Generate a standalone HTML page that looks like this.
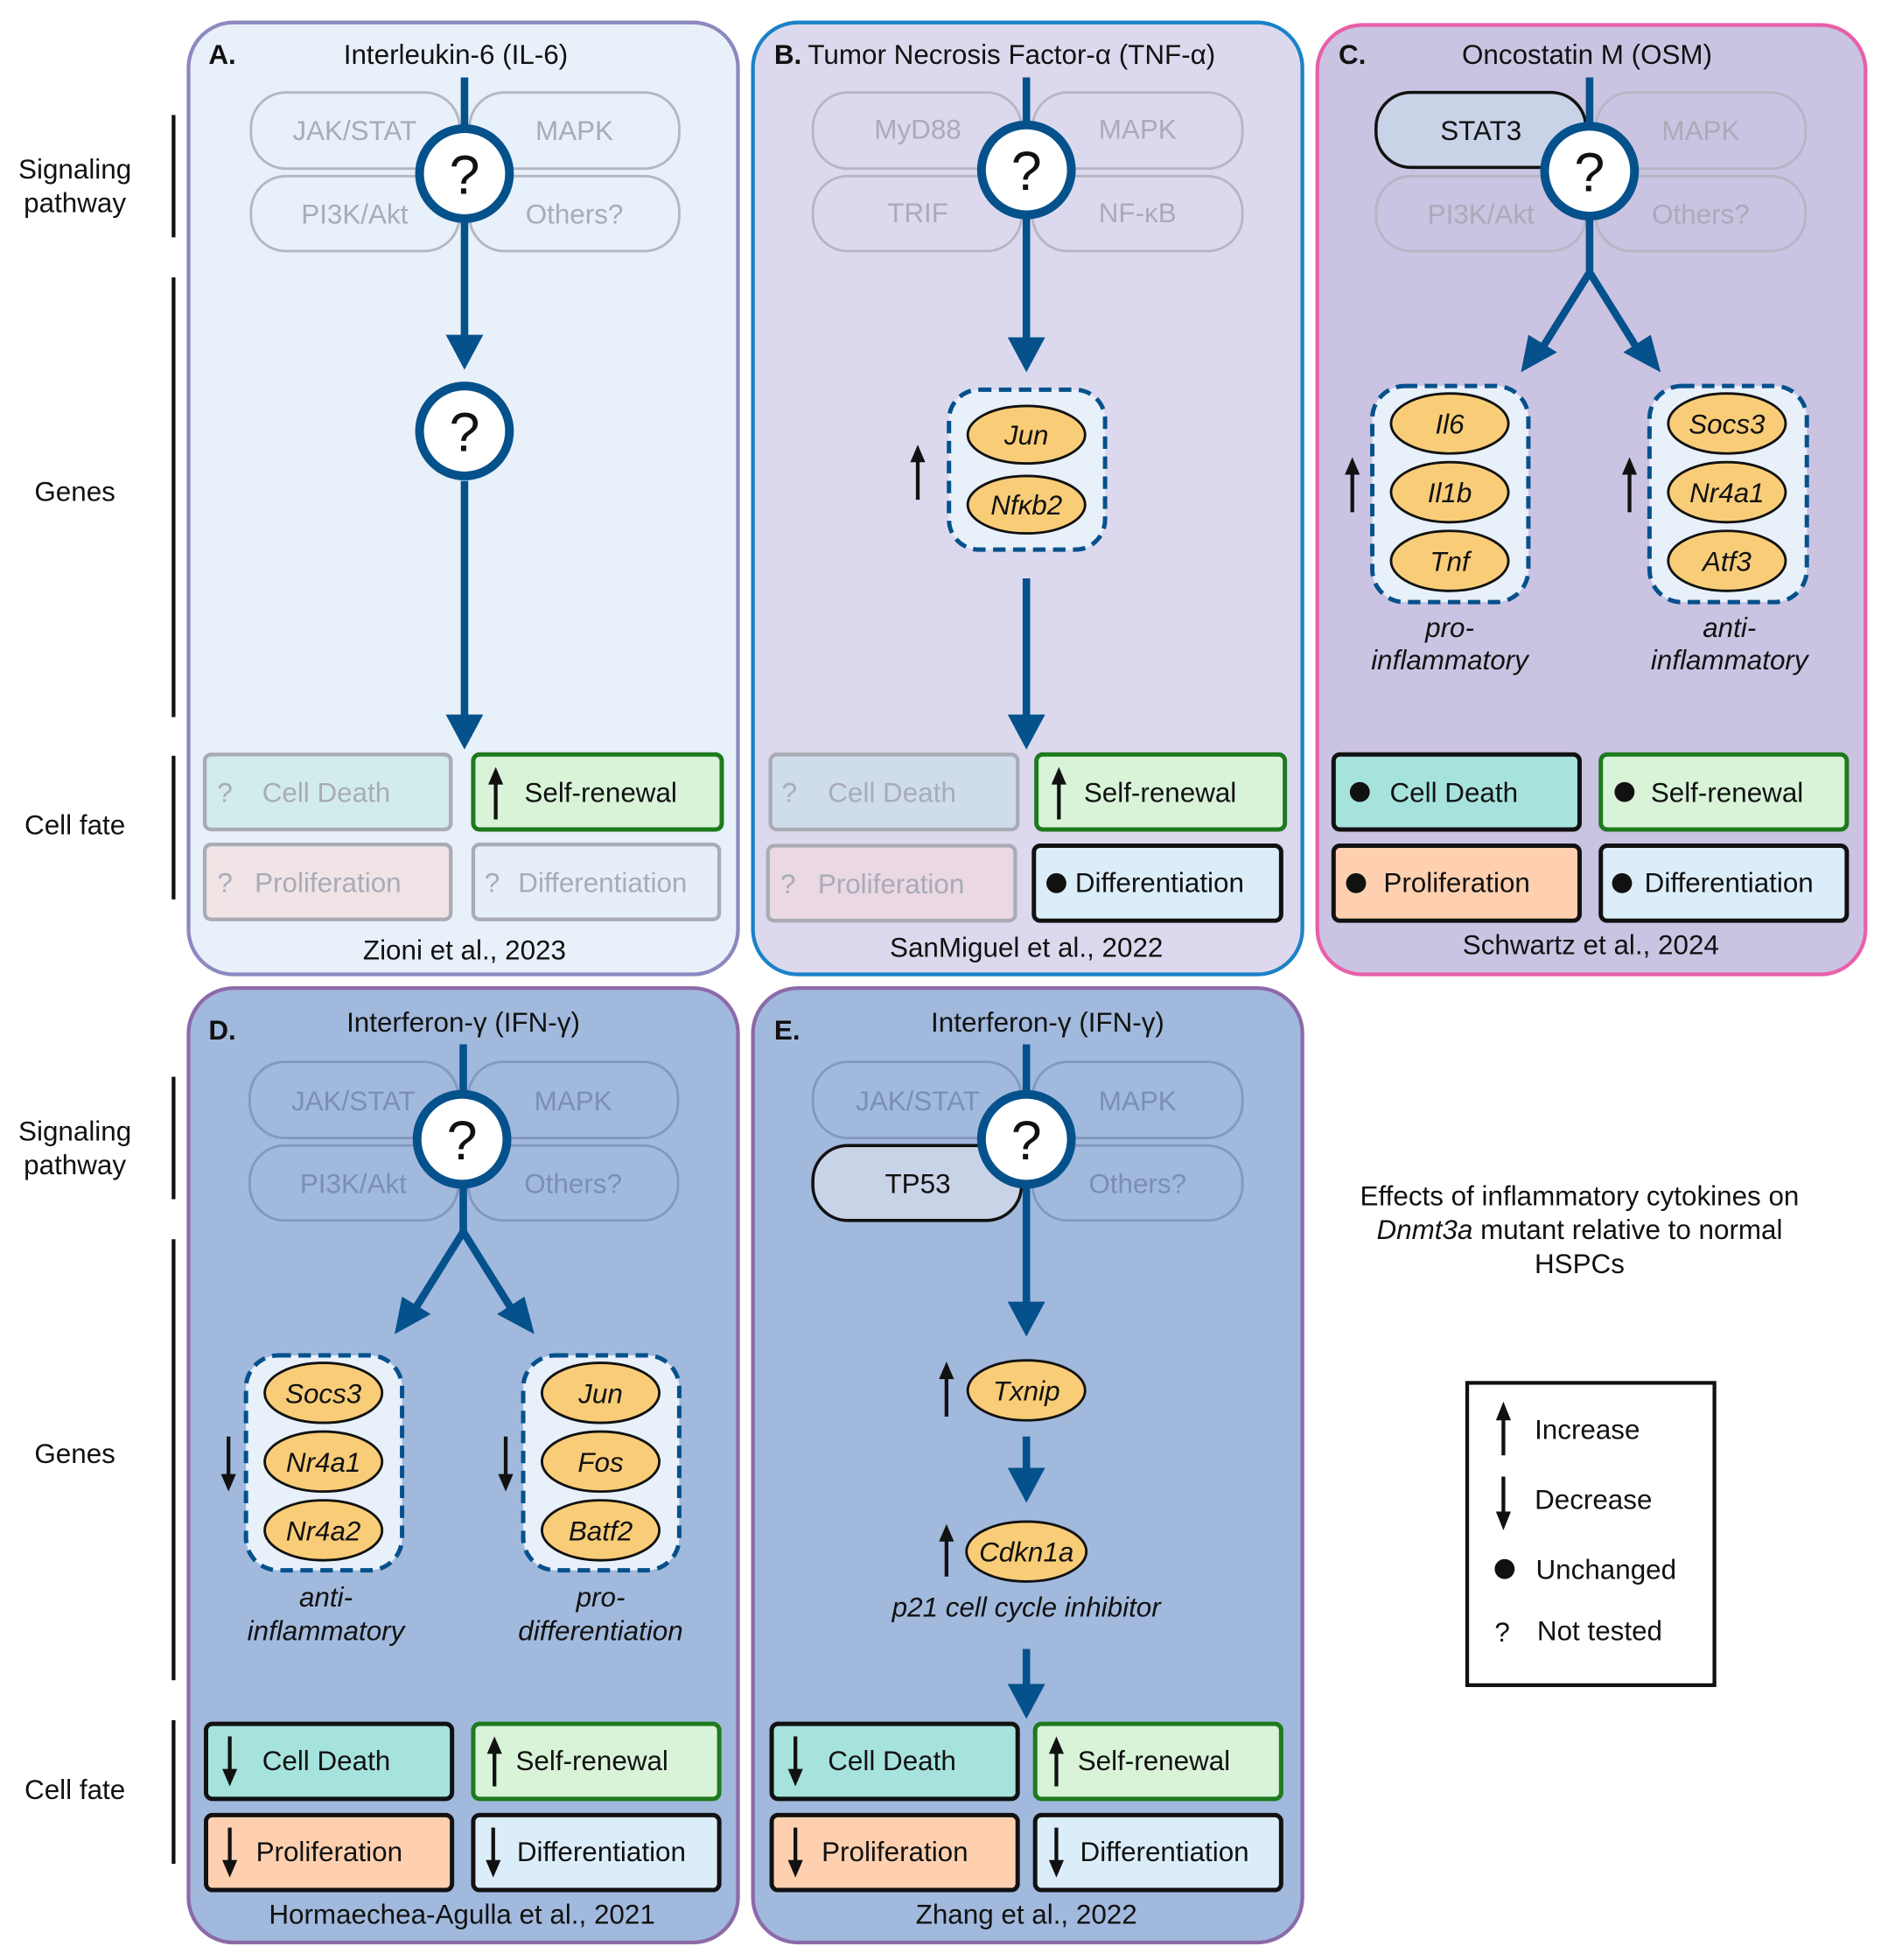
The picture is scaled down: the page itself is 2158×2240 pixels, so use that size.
<!DOCTYPE html>
<html><head><meta charset="utf-8"><style>
html,body{margin:0;padding:0;background:#fff}
svg{display:block}
text{font-family:"Liberation Sans",sans-serif;font-size:22px;fill:#111}
.pb{fill:none;stroke:#b4b6c4;stroke-width:2}
.pt{fill:#a9abb8;text-anchor:middle}
.pb2{fill:none;stroke:#8298bd;stroke-width:2}
.pt2{fill:#7a8fb5;text-anchor:middle}
.c{text-anchor:middle}
.bl{stroke:#05518c;stroke-width:6;fill:none}
.bh{fill:#05518c}
.q{fill:#fff;stroke:#05518c;stroke-width:7}
.qt{font-size:44px;text-anchor:middle;fill:#111}
.ell{fill:#f9cd78;stroke:#111;stroke-width:2}
.it{font-style:italic;text-anchor:middle}
.dash{fill:#e8f0fa;stroke:#05518c;stroke-width:3.5;stroke-dasharray:10 6}
.ka{stroke:#111;stroke-width:3}
.cd{fill:#a6e3dd;stroke:#111;stroke-width:3.5}
.sr{fill:#d8f3d8;stroke:#1e7a1e;stroke-width:3.5}
.pr{fill:#ffd0b0;stroke:#111;stroke-width:3.5}
.df{fill:#dcedfa;stroke:#111;stroke-width:3.5}
.fcd{fill:#d2ecec;stroke:#a9abb5;stroke-width:3}
.fpr{fill:#f0e4e6;stroke:#a9abb5;stroke-width:3}
.fdf{fill:#e6eef8;stroke:#a9abb5;stroke-width:3}
.fpr2{fill:#ead8e2;stroke:#a9abb5;stroke-width:3}
.fcd2{fill:#cfdcea;stroke:#a9abb5;stroke-width:3}
.ft{fill:#a9abb8}
.br{stroke:#111;stroke-width:3}
</style></head><body>
<svg width="2158" height="2240" viewBox="0 0 1512 1569" preserveAspectRatio="none" xmlns="http://www.w3.org/2000/svg">
<!-- left labels -->
<text class="c" x="60" y="143">Signaling</text><text class="c" x="60" y="170">pathway</text>
<line class="br" x1="139" y1="92" x2="139" y2="190"/>
<text class="c" x="60" y="401">Genes</text>
<line class="br" x1="139" y1="222" x2="139" y2="574"/>
<text class="c" x="60" y="668">Cell fate</text>
<line class="br" x1="139" y1="605" x2="139" y2="720"/>
<text class="c" x="60" y="913">Signaling</text><text class="c" x="60" y="940">pathway</text>
<line class="br" x1="139" y1="862" x2="139" y2="960"/>
<text class="c" x="60" y="1171">Genes</text>
<line class="br" x1="139" y1="992" x2="139" y2="1345"/>
<text class="c" x="60" y="1440">Cell fate</text>
<line class="br" x1="139" y1="1377" x2="139" y2="1492"/>

<!-- Panel frames -->
<rect x="151" y="18" width="440" height="762" rx="36" fill="#e8f0fa" stroke="#8c88c0" stroke-width="3"/>
<rect x="603" y="18" width="440" height="762" rx="36" fill="#dcd9ee" stroke="#1a82c8" stroke-width="3"/>
<rect x="1055" y="20" width="439" height="760" rx="36" fill="#cbc3e2" stroke="#e860a8" stroke-width="3"/>
<rect x="151" y="791" width="440" height="764" rx="36" fill="#a1b9dd" stroke="#8c6aa8" stroke-width="3"/>
<rect x="603" y="791" width="440" height="764" rx="36" fill="#a1b9dd" stroke="#8c6aa8" stroke-width="3"/>

<!-- ===== Panel A ===== -->
<text x="167" y="51" style="font-weight:bold">A.</text>
<text class="c" x="365" y="51">Interleukin-6 (IL-6)</text>
<rect class="pb" x="201" y="74" width="167" height="61" rx="28"/><rect class="pb" x="376" y="74" width="168" height="61" rx="28"/>
<rect class="pb" x="201" y="141" width="167" height="60" rx="28"/><rect class="pb" x="376" y="141" width="168" height="60" rx="28"/>
<text class="pt" x="284" y="112">JAK/STAT</text><text class="pt" x="460" y="112">MAPK</text>
<text class="pt" x="284" y="179">PI3K/Akt</text><text class="pt" x="460" y="179">Others?</text>
<line class="bl" x1="372" y1="62" x2="372" y2="272"/>
<polygon class="bh" points="357,268 387,268 372,296"/>
<circle class="q" cx="372" cy="139" r="36"/><text class="qt" x="372" y="155">?</text>
<circle class="q" cx="372" cy="345" r="36"/><text class="qt" x="372" y="361">?</text>
<line class="bl" x1="372" y1="385" x2="372" y2="575"/>
<polygon class="bh" points="357,572 387,572 372,600"/>
<rect class="fcd" x="164" y="604" width="197" height="60" rx="5"/>
<text class="ft" x="174" y="642">?</text><text class="ft" x="210" y="642">Cell Death</text>
<rect class="sr" x="379" y="604" width="199" height="60" rx="5"/>
<line class="ka" x1="397" y1="656" x2="397" y2="626"/><polygon points="391,628 403,628 397,614" fill="#111"/>
<text x="420" y="642">Self-renewal</text>
<rect class="fpr" x="164" y="676" width="197" height="60" rx="5"/>
<text class="ft" x="174" y="714">?</text><text class="ft" x="204" y="714">Proliferation</text>
<rect class="fdf" x="379" y="676" width="197" height="60" rx="5"/>
<text class="ft" x="388" y="714">?</text><text class="ft" x="415" y="714">Differentiation</text>
<text class="c" x="372" y="768">Zioni et al., 2023</text>

<!-- ===== Panel B ===== -->
<text x="620" y="51" style="font-weight:bold">B.</text>
<text x="647" y="51">Tumor Necrosis Factor-α (TNF-α)</text>
<rect class="pb" x="651" y="74" width="167" height="61" rx="28"/><rect class="pb" x="827" y="74" width="168" height="61" rx="28"/>
<rect class="pb" x="651" y="141" width="167" height="60" rx="28"/><rect class="pb" x="827" y="141" width="168" height="60" rx="28"/>
<text class="pt" x="735" y="111">MyD88</text><text class="pt" x="911" y="111">MAPK</text>
<text class="pt" x="735" y="178">TRIF</text><text class="pt" x="911" y="178">NF-κB</text>
<line class="bl" x1="822" y1="62" x2="822" y2="274"/>
<polygon class="bh" points="807,270 837,270 822,298"/>
<circle class="q" cx="822" cy="136" r="36"/><text class="qt" x="822" y="152">?</text>
<rect class="dash" x="760" y="312" width="125" height="128" rx="24"/>
<ellipse class="ell" cx="822" cy="348" rx="47" ry="23"/><text class="it" x="822" y="356">Jun</text>
<ellipse class="ell" cx="822" cy="404" rx="47" ry="23"/><text class="it" x="822" y="412">Nfκb2</text>
<line class="ka" x1="735" y1="400" x2="735" y2="368"/><polygon points="729,370 741,370 735,356" fill="#111"/>
<line class="bl" x1="822" y1="463" x2="822" y2="576"/>
<polygon class="bh" points="807,572 837,572 822,600"/>
<rect class="fcd2" x="617" y="604" width="198" height="60" rx="5"/>
<text class="ft" x="626" y="642">?</text><text class="ft" x="663" y="642">Cell Death</text>
<rect class="sr" x="830" y="604" width="199" height="60" rx="5"/>
<line class="ka" x1="848" y1="656" x2="848" y2="626"/><polygon points="842,628 854,628 848,614" fill="#111"/>
<text x="868" y="642">Self-renewal</text>
<rect class="fpr2" x="615" y="677" width="198" height="60" rx="5"/>
<text class="ft" x="625" y="715">?</text><text class="ft" x="655" y="715">Proliferation</text>
<rect class="df" x="828" y="677" width="198" height="60" rx="5"/>
<circle cx="846" cy="707" r="8" fill="#111"/><text x="861" y="714">Differentiation</text>
<text class="c" x="822" y="766">SanMiguel et al., 2022</text>

<!-- ===== Panel C ===== -->
<text x="1072" y="51" style="font-weight:bold">C.</text>
<text class="c" x="1271" y="51">Oncostatin M (OSM)</text>
<rect x="1102" y="74" width="168" height="60" rx="28" fill="#c9d3e8" stroke="#111" stroke-width="2.5"/>
<rect class="pb" x="1278" y="74" width="168" height="61" rx="28"/>
<rect class="pb" x="1102" y="141" width="168" height="60" rx="28"/><rect class="pb" x="1278" y="141" width="168" height="60" rx="28"/>
<text class="c" x="1186" y="112">STAT3</text><text class="pt" x="1362" y="112">MAPK</text>
<text class="pt" x="1186" y="179">PI3K/Akt</text><text class="pt" x="1362" y="179">Others?</text>
<line class="bl" x1="1273" y1="62" x2="1273" y2="218"/>
<polyline class="bl" points="1233,282 1273,218 1313,282"/>
<polygon class="bh" points="1218,298 1224,268 1247,282"/>
<polygon class="bh" points="1330,298 1300,282 1322,268"/>
<circle class="q" cx="1273" cy="137" r="36"/><text class="qt" x="1273" y="153">?</text>
<rect class="dash" x="1099" y="309" width="125" height="173" rx="26"/>
<ellipse class="ell" cx="1161" cy="339" rx="47" ry="24"/><text class="it" x="1161" y="347">Il6</text>
<ellipse class="ell" cx="1161" cy="394" rx="47" ry="24"/><text class="it" x="1161" y="402">Il1b</text>
<ellipse class="ell" cx="1161" cy="449" rx="47" ry="24"/><text class="it" x="1161" y="457">Tnf</text>
<line class="ka" x1="1083" y1="410" x2="1083" y2="378"/><polygon points="1077,380 1089,380 1083,366" fill="#111"/>
<rect class="dash" x="1321" y="309" width="126" height="173" rx="26"/>
<ellipse class="ell" cx="1383" cy="339" rx="47" ry="24"/><text class="it" x="1383" y="347">Socs3</text>
<ellipse class="ell" cx="1383" cy="394" rx="47" ry="24"/><text class="it" x="1383" y="402">Nr4a1</text>
<ellipse class="ell" cx="1383" cy="449" rx="47" ry="24"/><text class="it" x="1383" y="457">Atf3</text>
<line class="ka" x1="1305" y1="410" x2="1305" y2="378"/><polygon points="1299,380 1311,380 1305,366" fill="#111"/>
<text class="it" x="1161" y="510">pro-</text><text class="it" x="1161" y="536">inflammatory</text>
<text class="it" x="1385" y="510">anti-</text><text class="it" x="1385" y="536">inflammatory</text>
<rect class="cd" x="1068" y="604" width="197" height="60" rx="5"/>
<circle cx="1089" cy="634" r="8" fill="#111"/><text x="1113" y="642">Cell Death</text>
<rect class="sr" x="1282" y="604" width="197" height="60" rx="5"/>
<circle cx="1301" cy="634" r="8" fill="#111"/><text x="1322" y="642">Self-renewal</text>
<rect class="pr" x="1068" y="677" width="197" height="60" rx="5"/>
<circle cx="1086" cy="707" r="8" fill="#111"/><text x="1108" y="714">Proliferation</text>
<rect class="df" x="1282" y="677" width="197" height="60" rx="5"/>
<circle cx="1299" cy="707" r="8" fill="#111"/><text x="1317" y="714">Differentiation</text>
<text class="c" x="1274" y="764">Schwartz et al., 2024</text>

<!-- ===== Panel D ===== -->
<text x="167" y="832" style="font-weight:bold">D.</text>
<text class="c" x="371" y="826">Interferon-γ (IFN-γ)</text>
<rect class="pb2" x="200" y="850" width="167" height="61" rx="28"/><rect class="pb2" x="375" y="850" width="168" height="61" rx="28"/>
<rect class="pb2" x="200" y="917" width="167" height="60" rx="28"/><rect class="pb2" x="375" y="917" width="168" height="60" rx="28"/>
<text class="pt2" x="283" y="889">JAK/STAT</text><text class="pt2" x="459" y="889">MAPK</text>
<text class="pt2" x="283" y="955">PI3K/Akt</text><text class="pt2" x="459" y="955">Others?</text>
<line class="bl" x1="371" y1="836" x2="371" y2="986"/>
<polyline class="bl" points="331,1050 371,986 411,1050"/>
<polygon class="bh" points="316,1068 322,1038 345,1052"/>
<polygon class="bh" points="428,1068 398,1052 420,1038"/>
<circle class="q" cx="370" cy="912" r="36"/><text class="qt" x="370" y="928">?</text>
<rect class="dash" x="197" y="1085" width="125" height="172" rx="26"/>
<ellipse class="ell" cx="259" cy="1115" rx="47" ry="24"/><text class="it" x="259" y="1123">Socs3</text>
<ellipse class="ell" cx="259" cy="1170" rx="47" ry="24"/><text class="it" x="259" y="1178">Nr4a1</text>
<ellipse class="ell" cx="259" cy="1225" rx="47" ry="24"/><text class="it" x="259" y="1233">Nr4a2</text>
<line class="ka" x1="183" y1="1150" x2="183" y2="1182"/><polygon points="177,1180 189,1180 183,1194" fill="#111"/>
<rect class="dash" x="419" y="1085" width="125" height="172" rx="26"/>
<ellipse class="ell" cx="481" cy="1115" rx="47" ry="24"/><text class="it" x="481" y="1123">Jun</text>
<ellipse class="ell" cx="481" cy="1170" rx="47" ry="24"/><text class="it" x="481" y="1178">Fos</text>
<ellipse class="ell" cx="481" cy="1225" rx="47" ry="24"/><text class="it" x="481" y="1233">Batf2</text>
<line class="ka" x1="405" y1="1150" x2="405" y2="1182"/><polygon points="399,1180 411,1180 405,1194" fill="#111"/>
<text class="it" x="261" y="1286">anti-</text><text class="it" x="261" y="1313">inflammatory</text>
<text class="it" x="481" y="1286">pro-</text><text class="it" x="481" y="1313">differentiation</text>
<rect class="cd" x="165" y="1380" width="197" height="60" rx="5"/>
<line class="ka" x1="184" y1="1390" x2="184" y2="1418"/><polygon points="178,1416 190,1416 184,1430" fill="#111"/>
<text x="210" y="1417">Cell Death</text>
<rect class="sr" x="379" y="1380" width="197" height="60" rx="5"/>
<line class="ka" x1="396" y1="1430" x2="396" y2="1402"/><polygon points="390,1404 402,1404 396,1390" fill="#111"/>
<text x="413" y="1417">Self-renewal</text>
<rect class="pr" x="165" y="1453" width="197" height="60" rx="5"/>
<line class="ka" x1="184" y1="1463" x2="184" y2="1491"/><polygon points="178,1489 190,1489 184,1503" fill="#111"/>
<text x="205" y="1490">Proliferation</text>
<rect class="df" x="379" y="1453" width="197" height="60" rx="5"/>
<line class="ka" x1="395" y1="1463" x2="395" y2="1491"/><polygon points="389,1489 401,1489 395,1503" fill="#111"/>
<text x="414" y="1490">Differentiation</text>
<text class="c" x="370" y="1540">Hormaechea-Agulla et al., 2021</text>

<!-- ===== Panel E ===== -->
<text x="620" y="832" style="font-weight:bold">E.</text>
<text class="c" x="839" y="826">Interferon-γ (IFN-γ)</text>
<rect class="pb2" x="651" y="850" width="167" height="61" rx="28"/><rect class="pb2" x="827" y="850" width="168" height="61" rx="28"/>
<rect x="651" y="917" width="167" height="60" rx="28" fill="#c9d3e8" stroke="#111" stroke-width="2.5"/>
<rect class="pb2" x="827" y="917" width="168" height="60" rx="28"/>
<text class="pt2" x="735" y="889">JAK/STAT</text><text class="pt2" x="911" y="889">MAPK</text>
<text class="c" x="735" y="955">TP53</text><text class="pt2" x="911" y="955">Others?</text>
<line class="bl" x1="822" y1="836" x2="822" y2="1046"/>
<polygon class="bh" points="807,1042 837,1042 822,1070"/>
<circle class="q" cx="822" cy="912" r="36"/><text class="qt" x="822" y="928">?</text>
<ellipse class="ell" cx="822" cy="1113" rx="47" ry="24"/><text class="it" x="822" y="1121">Txnip</text>
<line class="ka" x1="758" y1="1134" x2="758" y2="1102"/><polygon points="752,1104 764,1104 758,1090" fill="#111"/>
<line class="bl" x1="822" y1="1150" x2="822" y2="1178"/>
<polygon class="bh" points="807,1175 837,1175 822,1203"/>
<ellipse class="ell" cx="822" cy="1242" rx="48" ry="24"/><text class="it" x="822" y="1250">Cdkn1a</text>
<line class="ka" x1="758" y1="1262" x2="758" y2="1232"/><polygon points="752,1234 764,1234 758,1220" fill="#111"/>
<text class="it" x="822" y="1294">p21 cell cycle inhibitor</text>
<line class="bl" x1="822" y1="1320" x2="822" y2="1352"/>
<polygon class="bh" points="807,1348 837,1348 822,1376"/>
<rect class="cd" x="618" y="1380" width="197" height="60" rx="5"/>
<line class="ka" x1="637" y1="1390" x2="637" y2="1418"/><polygon points="631,1416 643,1416 637,1430" fill="#111"/>
<text x="663" y="1417">Cell Death</text>
<rect class="sr" x="829" y="1380" width="197" height="60" rx="5"/>
<line class="ka" x1="846" y1="1430" x2="846" y2="1402"/><polygon points="840,1404 852,1404 846,1390" fill="#111"/>
<text x="863" y="1417">Self-renewal</text>
<rect class="pr" x="618" y="1453" width="197" height="60" rx="5"/>
<line class="ka" x1="637" y1="1463" x2="637" y2="1491"/><polygon points="631,1489 643,1489 637,1503" fill="#111"/>
<text x="658" y="1490">Proliferation</text>
<rect class="df" x="829" y="1453" width="197" height="60" rx="5"/>
<line class="ka" x1="846" y1="1463" x2="846" y2="1491"/><polygon points="840,1489 852,1489 846,1503" fill="#111"/>
<text x="865" y="1490">Differentiation</text>
<text class="c" x="822" y="1540">Zhang et al., 2022</text>

<!-- ===== Legend ===== -->
<text class="c" x="1265" y="965">Effects of inflammatory cytokines on</text>
<text class="c" x="1265" y="992"><tspan font-style="italic">Dnmt3a</tspan> mutant relative to normal</text>
<text class="c" x="1265" y="1019">HSPCs</text>
<rect x="1175" y="1107" width="198" height="242" fill="#fff" stroke="#111" stroke-width="3"/>
<line class="ka" x1="1204" y1="1165" x2="1204" y2="1135"/><polygon points="1198,1137 1210,1137 1204,1122" fill="#111"/>
<text x="1229" y="1152">Increase</text>
<line class="ka" x1="1204" y1="1182" x2="1204" y2="1212"/><polygon points="1198,1210 1210,1210 1204,1225" fill="#111"/>
<text x="1229" y="1208">Decrease</text>
<circle cx="1205" cy="1256" r="8" fill="#111"/>
<text x="1230" y="1264">Unchanged</text>
<text x="1197" y="1314">?</text>
<text x="1231" y="1313">Not tested</text>
</svg>
</body></html>
